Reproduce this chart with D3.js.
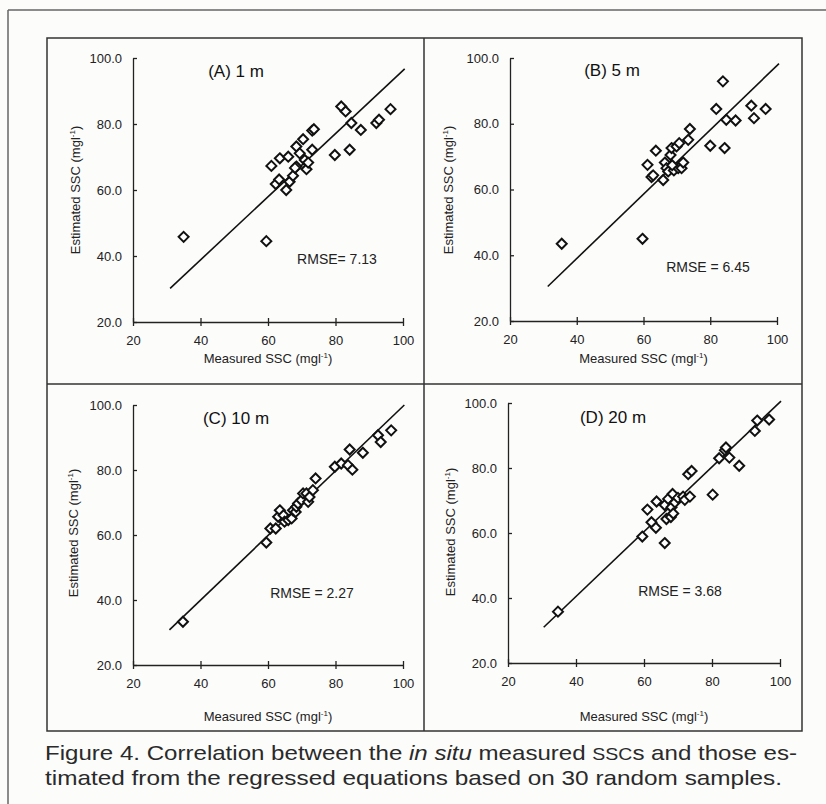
<!DOCTYPE html>
<html>
<head>
<meta charset="utf-8">
<script src="https://cdn.jsdelivr.net/npm/d3@7"></script>
<style>
  body { margin: 0; background: #fcfcfb; }
  svg { display: block; font-family: "Liberation Sans", Arial, sans-serif; }
  .tick text { fill: #222; }
</style>
</head>
<body>
<svg id="fig" width="826" height="804"></svg>
<script>
// one pair of arrays per depth
const measuredA  = [35, 59.5, 61, 63.5, 66, 62.3, 63.3, 65.4, 66.4, 67.4, 68.4, 68.4, 68, 69.4, 70.4, 70.9, 71.4, 71.9, 73.1, 73.6, 73.1, 79.8, 81.7, 83, 84.2, 84.7, 87.5, 92.1, 92.9, 96.3];
const estimatedA = [45.8, 44.5, 67.3, 69.6, 70.1, 61.8, 63.2, 60, 62.5, 64.3, 67.1, 73.2, 66.7, 71.1, 75.4, 69.1, 66.3, 68.3, 78, 78.4, 72.2, 70.6, 85.3, 83.8, 72.2, 80.3, 78.2, 80.3, 81.3, 84.5];

const measuredB  = [35.5, 59.7, 61.2, 62.4, 62.9, 63.7, 65.9, 66.4, 66.9, 67.4, 68.1, 68.4, 69.1, 69.9, 70.4, 70.7, 71.4, 71.9, 73.4, 73.9, 80, 81.8, 83.8, 84.3, 84.8, 87.6, 92.3, 93.1, 96.6, 68.6];
const estimatedB = [43.5, 45, 67.5, 63.8, 64.3, 71.8, 62.9, 68.2, 66.5, 65.5, 70.5, 72.6, 65.8, 73.1, 66.5, 74.1, 66.5, 68.2, 75.1, 78.4, 73.3, 84.5, 92.9, 72.6, 81.2, 81, 85.5, 81.7, 84.5, 67.4];

const measuredC  = [34.8, 59.5, 60.7, 62.3, 63, 63.5, 64.6, 64.9, 66, 67, 67.4, 68.2, 68.4, 68.9, 69.9, 70.4, 71.4, 71.9, 72.3, 73.3, 74.1, 79.8, 81.7, 83.7, 84.2, 85, 88.1, 92.6, 93.4, 96.5];
const estimatedC = [33.3, 57.7, 62, 62, 65.6, 67.6, 66.1, 64.1, 64.6, 65.1, 67.6, 67.1, 68.7, 69.7, 70.7, 72.8, 72.8, 70.2, 71.7, 73.8, 77.4, 81, 82, 81.5, 86.3, 80.1, 85.3, 90.7, 88.6, 92.2];

const measuredD  = [34.7, 59.5, 61, 62.2, 63.5, 63.7, 66.1, 66.1, 66.6, 67.1, 67.9, 68.1, 68.4, 68.6, 69.1, 70, 71.5, 72, 73.5, 73, 74, 80.2, 82.1, 83.8, 84.1, 85.1, 88, 92.6, 93.3, 96.8];
const estimatedD = [35.8, 58.9, 67.2, 63.3, 61.6, 69.7, 56.9, 68.6, 64.3, 70.5, 64.9, 67.9, 72, 66, 69.4, 70.8, 71.2, 70.2, 71.2, 78.1, 79.1, 71.8, 83, 85.5, 86.3, 83.2, 80.7, 91.4, 94.6, 94.9];

// fitted lines, [start, end] as [measured, estimated]
const fitA = [[31, 30.2], [100.5, 96.7]];
const fitB = [[31.3, 30.5], [100.6, 98.3]];
const fitC = [[30.8, 30.8], [100.4, 100]];
const fitD = [[30.5, 31], [100.3, 100.6]];

const titles = ['(A) 1 m', '(B) 5 m', '(C) 10 m', '(D) 20 m'];
const rmseLabels = ['RMSE= 7.13', 'RMSE = 6.45', 'RMSE = 2.27', 'RMSE = 3.68'];
const xTicks = [20, 40, 60, 80, 100];
const yTicks = [20, 40, 60, 80, 100];

const svg = d3.select('#fig');

// scan frame
svg.append('line').attr('x1', 8).attr('y1', 10).attr('x2', 8).attr('y2', 804)
  .attr('stroke', '#666').attr('stroke-width', 1.5);
svg.append('line').attr('x1', 8).attr('y1', 10).attr('x2', 826).attr('y2', 10)
  .attr('stroke', '#666').attr('stroke-width', 1.5);

svg.append('rect').attr('x', 47).attr('y', 38).attr('width', 755).attr('height', 693)
  .attr('fill', 'none').attr('stroke', '#333').attr('stroke-width', 1.5);
svg.append('line').attr('x1', 424).attr('y1', 38).attr('x2', 424).attr('y2', 731)
  .attr('stroke', '#333').attr('stroke-width', 1.5);
svg.append('line').attr('x1', 47).attr('y1', 384).attr('x2', 802).attr('y2', 384)
  .attr('stroke', '#333').attr('stroke-width', 1.5);

const panels = [
  {mx: measuredA, est: estimatedA, fit: fitA, x0: 133, x1: 403, yb: 322, yt: 58,
   title: [236, 77], rmse: [337, 264], xlab: 363, ylab: [75, 190]},
  {mx: measuredB, est: estimatedB, fit: fitB, x0: 510, x1: 777, yb: 321, yt: 58,
   title: [612, 76], rmse: [708, 272], xlab: 363, ylab: [448, 190]},
  {mx: measuredC, est: estimatedC, fit: fitC, x0: 133, x1: 403, yb: 665, yt: 405,
   title: [236, 424], rmse: [312, 598], xlab: 721, ylab: [73, 533]},
  {mx: measuredD, est: estimatedD, fit: fitD, x0: 508, x1: 780, yb: 663, yt: 403,
   title: [613, 423], rmse: [680, 596], xlab: 721, ylab: [450, 532]},
];

const diamond = r => `M0,${-r}L${r},0L0,${r}L${-r},0Z`;

const unitLabel = (sel, main) => {
  sel.append('tspan').text(main + ' (mgl');
  sel.append('tspan').attr('font-size', 8).attr('dy', -5).text('-1');
  sel.append('tspan').attr('dy', 5).text(')');
};

panels.forEach((p, i) => {
  const g = svg.append('g').attr('class', 'panel');
  const x = d3.scaleLinear().domain([20, 100]).range([p.x0, p.x1]);
  const y = d3.scaleLinear().domain([20, 100]).range([p.yb, p.yt]);

  const yAxis = g.append('g')
    .attr('transform', `translate(${p.x0},0)`)
    .call(d3.axisLeft(y).tickValues(yTicks).tickFormat(d3.format('.1f'))
      .tickSize(4).tickSizeOuter(0).tickPadding(7));
  yAxis.selectAll('.tick line').attr('x2', 4);

  const xAxis = g.append('g')
    .attr('transform', `translate(0,${p.yb})`)
    .call(d3.axisBottom(x).tickValues(xTicks).tickFormat(d3.format('d'))
      .tickSize(4).tickSizeOuter(0).tickPadding(7));
  xAxis.selectAll('.tick line').attr('y1', -4);

  [yAxis, xAxis].forEach(a => {
    a.selectAll('.domain').attr('stroke', '#222').attr('stroke-width', 1.3);
    a.selectAll('.tick line').attr('stroke', '#222').attr('stroke-width', 1.3);
    a.selectAll('.tick text').attr('font-size', 13);
  });
  xAxis.selectAll('.tick text').attr('dy', '0.9em');

  g.append('path')
    .datum(p.fit)
    .attr('d', d3.line().x(d => x(d[0])).y(d => y(d[1])))
    .attr('fill', 'none').attr('stroke', '#111').attr('stroke-width', 1.6);

  g.selectAll('path.pt')
    .data(d3.range(p.mx.length))
    .enter().append('path')
    .attr('class', 'pt')
    .attr('transform', k => `translate(${x(p.mx[k])},${y(p.est[k])})`)
    .attr('d', diamond(5))
    .attr('fill', 'white').attr('stroke', '#111').attr('stroke-width', 2);

  g.append('text')
    .attr('x', p.title[0]).attr('y', p.title[1])
    .attr('text-anchor', 'middle').attr('font-size', 17).attr('fill', '#111')
    .text(titles[i]);

  g.append('text')
    .attr('x', p.rmse[0]).attr('y', p.rmse[1])
    .attr('text-anchor', 'middle').attr('font-size', 14).attr('fill', '#222')
    .text(rmseLabels[i]);

  g.append('text')
    .attr('x', (p.x0 + p.x1) / 2).attr('y', p.xlab)
    .attr('text-anchor', 'middle').attr('font-size', 13).attr('fill', '#222')
    .call(unitLabel, 'Measured SSC');

  g.append('text')
    .attr('transform', `translate(${p.ylab[0] + 5},${p.ylab[1]}) rotate(-90)`)
    .attr('text-anchor', 'middle').attr('font-size', 13).attr('fill', '#222')
    .call(unitLabel, 'Estimated SSC');
});

// caption
const cap1 = svg.append('text')
  .attr('x', 45).attr('y', 760).attr('font-size', 21).attr('fill', '#2a2a2a')
  .attr('textLength', 752).attr('lengthAdjust', 'spacingAndGlyphs');
cap1.append('tspan').text('Figure 4. Correlation between the ');
cap1.append('tspan').attr('font-style', 'italic').text('in situ');
cap1.append('tspan').text(' measured ');
cap1.append('tspan').attr('font-size', 17).text('SSC');
cap1.append('tspan').text('s and those es-');

svg.append('text')
  .attr('x', 45).attr('y', 785).attr('font-size', 21).attr('fill', '#2a2a2a')
  .attr('textLength', 737).attr('lengthAdjust', 'spacingAndGlyphs')
  .text('timated from the regressed equations based on 30 random samples.');
</script>
</body>
</html>
